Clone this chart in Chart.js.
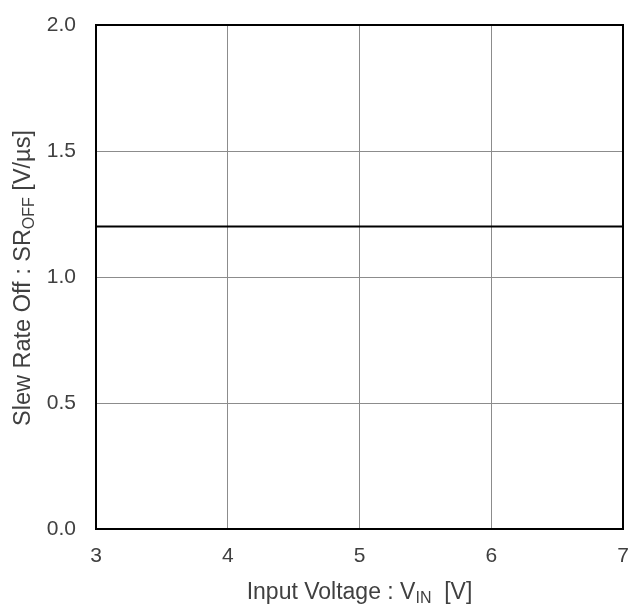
<!DOCTYPE html>
<html>
<head>
<meta charset="utf-8">
<script src="https://cdn.jsdelivr.net/npm/chart.js@4"></script>
<style>
  html, body { margin: 0; padding: 0; background: #fff; }
  #wrap { width: 630px; height: 606px; }
</style>
</head>
<body>
<div id="wrap"><canvas id="chart" width="630" height="606"></canvas></div>
<script>
const inputVoltage = [3, 7];
const slewRateOff = [1.2, 1.2];
const xTicks = [3, 4, 5, 6, 7];
const yTicks = [0, 0.5, 1.0, 1.5, 2.0];

const textColor = '#404040';
const fontFamily = '"Liberation Sans", Arial, sans-serif';

// draws text pieces with subscripts, centred on (0,0) of current transform
function drawRich(ctx, parts, size) {
  const subSize = Math.round(size * 0.68);
  let total = 0;
  parts.forEach(p => {
    ctx.font = (p.sub ? subSize : size) + 'px ' + fontFamily;
    p.w = ctx.measureText(p.t).width;
    total += p.w;
  });
  let x = -total / 2;
  ctx.textBaseline = 'alphabetic';
  ctx.textAlign = 'left';
  parts.forEach(p => {
    ctx.font = (p.sub ? subSize : size) + 'px ' + fontFamily;
    ctx.fillText(p.t, x, p.sub ? 4 : 0);
    x += p.w;
  });
}

const framePlugin = {
  id: 'frame',
  afterDraw(chart) {
    const { ctx, chartArea: a } = chart;
    ctx.save();
    ctx.strokeStyle = '#000';
    ctx.lineWidth = 2;
    ctx.strokeRect(a.left, a.top, a.right - a.left, a.bottom - a.top);

    ctx.fillStyle = textColor;
    // x title
    ctx.save();
    ctx.translate((a.left + a.right) / 2, 599);
    drawRich(ctx, [{ t: 'Input Voltage : V' }, { t: 'IN', sub: true }, { t: '  [V]' }], 23);
    ctx.restore();
    // y title
    ctx.save();
    ctx.translate(30, 278);
    ctx.rotate(-Math.PI / 2);
    drawRich(ctx, [{ t: 'Slew Rate Off : SR' }, { t: 'OFF', sub: true }, { t: ' [V/\u00b5s]' }], 23.5);
    ctx.restore();
    ctx.restore();
  }
};

new Chart(document.getElementById('chart'), {
  type: 'line',
  data: {
    datasets: [{
      data: inputVoltage.map((v, i) => ({ x: v, y: slewRateOff[i] })),
      borderColor: '#000',
      borderWidth: 2,
      pointRadius: 0,
      tension: 0
    }]
  },
  options: {
    responsive: false,
    animation: false,
    devicePixelRatio: 1,
    layout: { padding: { left: 0, right: 7, top: 25, bottom: 0 } },
    plugins: { legend: { display: false }, tooltip: { enabled: false } },
    scales: {
      x: {
        type: 'linear',
        min: 3, max: 7,
        afterBuildTicks: s => { s.ticks = xTicks.map(v => ({ value: v })); },
        afterFit: s => { s.height = 77; s.paddingLeft = 0; s.paddingRight = 0; },
        grid: { color: '#8c8c8c', lineWidth: 1, drawTicks: false },
        border: { display: false },
        ticks: {
          padding: 15,
          color: textColor,
          font: { family: fontFamily, size: 21 },
          maxRotation: 0,
          callback: v => String(v)
        }
      },
      y: {
        min: 0, max: 2,
        afterBuildTicks: s => { s.ticks = yTicks.map(v => ({ value: v })); },
        afterFit: s => { s.width = 96; s.paddingTop = 0; s.paddingBottom = 0; },
        grid: { color: '#8c8c8c', lineWidth: 1, drawTicks: false },
        border: { display: false },
        ticks: {
          padding: 20,
          color: textColor,
          font: { family: fontFamily, size: 21 },
          callback: v => v.toFixed(1)
        }
      }
    }
  },
  plugins: [framePlugin]
});
</script>
</body>
</html>
